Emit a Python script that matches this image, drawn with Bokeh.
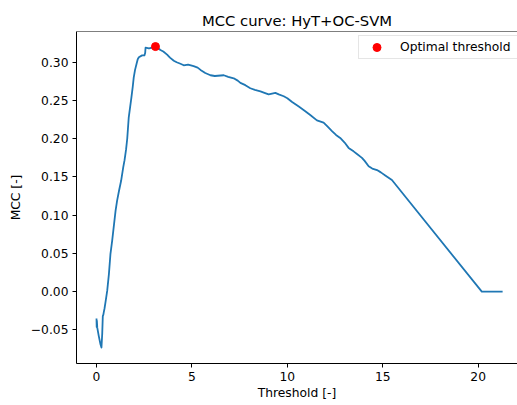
from bokeh.plotting import figure
from bokeh.models import Range1d, FixedTicker, Span, Legend
from bokeh.embed import file_html
from bokeh.resources import INLINE

# ---- data ----
threshold = [
    0.00, 0.01, 0.02, 0.04, 0.12, 0.20, 0.26, 0.30, 0.33, 0.36, 0.38, 0.42, 0.47,
    0.56, 0.65, 0.73, 0.82, 0.90, 1.00, 1.08, 1.18, 1.29, 1.40, 1.47, 1.55, 1.61,
    1.69, 1.76, 1.83, 1.90, 1.95, 2.02, 2.10, 2.16, 2.22, 2.39, 2.51,
    2.55, 2.57, 2.75, 2.92, 3.00, 3.09, 3.20, 3.35, 3.50, 3.70, 3.85, 4.05, 4.20, 4.40,
    4.57, 4.80, 5.09, 5.30, 5.45, 5.70, 5.97, 6.20, 6.67, 6.90, 7.19, 7.40, 7.54, 7.80,
    8.06, 8.30, 8.59, 8.80, 9.02, 9.20, 9.37, 9.55, 9.81, 10.00, 10.25, 10.60, 10.94,
    11.20, 11.55, 11.90, 12.10, 12.34, 12.55, 12.77, 13.00, 13.21, 13.47, 13.65, 13.91,
    14.05, 14.26, 14.45, 14.70, 14.90, 15.13, 15.48, 20.19, 21.28,
]
mcc = [
    -0.035, -0.046, -0.038, -0.047, -0.058, -0.068, -0.073, -0.055, -0.032, -0.030,
    -0.027, -0.022, -0.014, 0.001, 0.023, 0.049, 0.0665, 0.084, 0.106, 0.119, 0.132,
    0.145, 0.1625, 0.172, 0.186, 0.200, 0.228, 0.241, 0.254, 0.268, 0.280, 0.290,
    0.298, 0.304, 0.3065, 0.309, 0.309,
    0.312, 0.319, 0.318, 0.319, 0.318, 0.3205, 0.319, 0.316, 0.314, 0.310, 0.306, 0.302,
    0.300, 0.298, 0.296,
    0.297, 0.295, 0.293, 0.290, 0.286, 0.283, 0.282, 0.283, 0.281, 0.279, 0.276, 0.273,
    0.270, 0.266, 0.264, 0.262, 0.260, 0.258, 0.259, 0.260, 0.258, 0.2555, 0.253, 0.248,
    0.242, 0.236, 0.231, 0.224, 0.221, 0.216, 0.210, 0.205, 0.201, 0.195, 0.188, 0.1835,
    0.180, 0.175, 0.171, 0.164, 0.161, 0.159, 0.156, 0.152, 0.146, 0.000, 0.000,
]
optimal_threshold = [3.09]
optimal_mcc = [0.3205]

x_ticks = [0, 5, 10, 15, 20]
x_tick_labels = ["0", "5", "10", "15", "20"]
y_ticks = [-0.05, 0.0, 0.05, 0.10, 0.15, 0.20, 0.25, 0.30]
y_tick_labels = ["\u22120.05", "0.00", "0.05", "0.10", "0.15", "0.20", "0.25", "0.30"]

FONT = "DejaVu Sans"
TICK_FS = "12.3px"

p = figure(
    width=517, height=405,
    output_backend="svg", toolbar_location=None,
    x_range=Range1d(-1.048, 22.06), y_range=Range1d(-0.0939, 0.3402),
    min_border_left=76, min_border_right=0, min_border_top=31, min_border_bottom=42,
    title="MCC curve: HyT+OC-SVM",
)
p.outline_line_color = None
p.grid.grid_line_color = None
p.background_fill_color = "white"
p.border_fill_color = "white"

p.title.text_font = FONT
p.title.text_font_size = "14.8px"
p.title.text_font_style = "normal"
p.title.text_color = "black"
p.title.align = "center"
p.title.standoff = 6
p.title.offset = 3

line = p.line(threshold, mcc, line_color="#1f77b4", line_width=1.8, line_join="round")
pt = p.scatter(optimal_threshold, optimal_mcc, size=8, fill_color="red", line_color="red")

# top spine
p.add_layout(Span(location=0.3402, dimension="width", line_color="black", line_width=1))

xa = p.xaxis[0]
xa.ticker = FixedTicker(ticks=x_ticks)
xa.major_label_overrides = dict(zip(x_ticks, x_tick_labels))
xa.axis_label = "Threshold [-]"
ya = p.yaxis[0]
ya.ticker = FixedTicker(ticks=y_ticks)
ya.major_label_overrides = dict(zip(y_ticks, y_tick_labels))
ya.axis_label = "MCC [-]"

for ax in (xa, ya):
    ax.axis_line_color = "black"
    ax.axis_line_width = 1
    ax.major_tick_line_color = "black"
    ax.major_tick_out = 4
    ax.major_tick_in = 0
    ax.minor_tick_line_color = None
    ax.major_label_text_font = FONT
    ax.major_label_text_font_size = TICK_FS
    ax.major_label_text_color = "black"
    ax.major_label_standoff = 4
    ax.axis_label_text_font = FONT
    ax.axis_label_text_font_size = TICK_FS
    ax.axis_label_text_font_style = "normal"
    ax.axis_label_text_color = "black"
xa.axis_label_standoff = 2
ya.axis_label_standoff = 5

legend = Legend(items=[("Optimal threshold", [pt])], location=(282, 304))
legend.label_text_font = FONT
legend.label_text_font_size = TICK_FS
legend.label_text_color = "black"
legend.border_line_color = "#cccccc"
legend.border_line_width = 1
legend.background_fill_alpha = 0.8
legend.padding = 1
legend.glyph_width = 33
legend.glyph_height = 20
legend.label_standoff = 7
legend.label_width = 116
legend.margin = 0
p.add_layout(legend)

open("out.html", "w").write(file_html(p, INLINE))
